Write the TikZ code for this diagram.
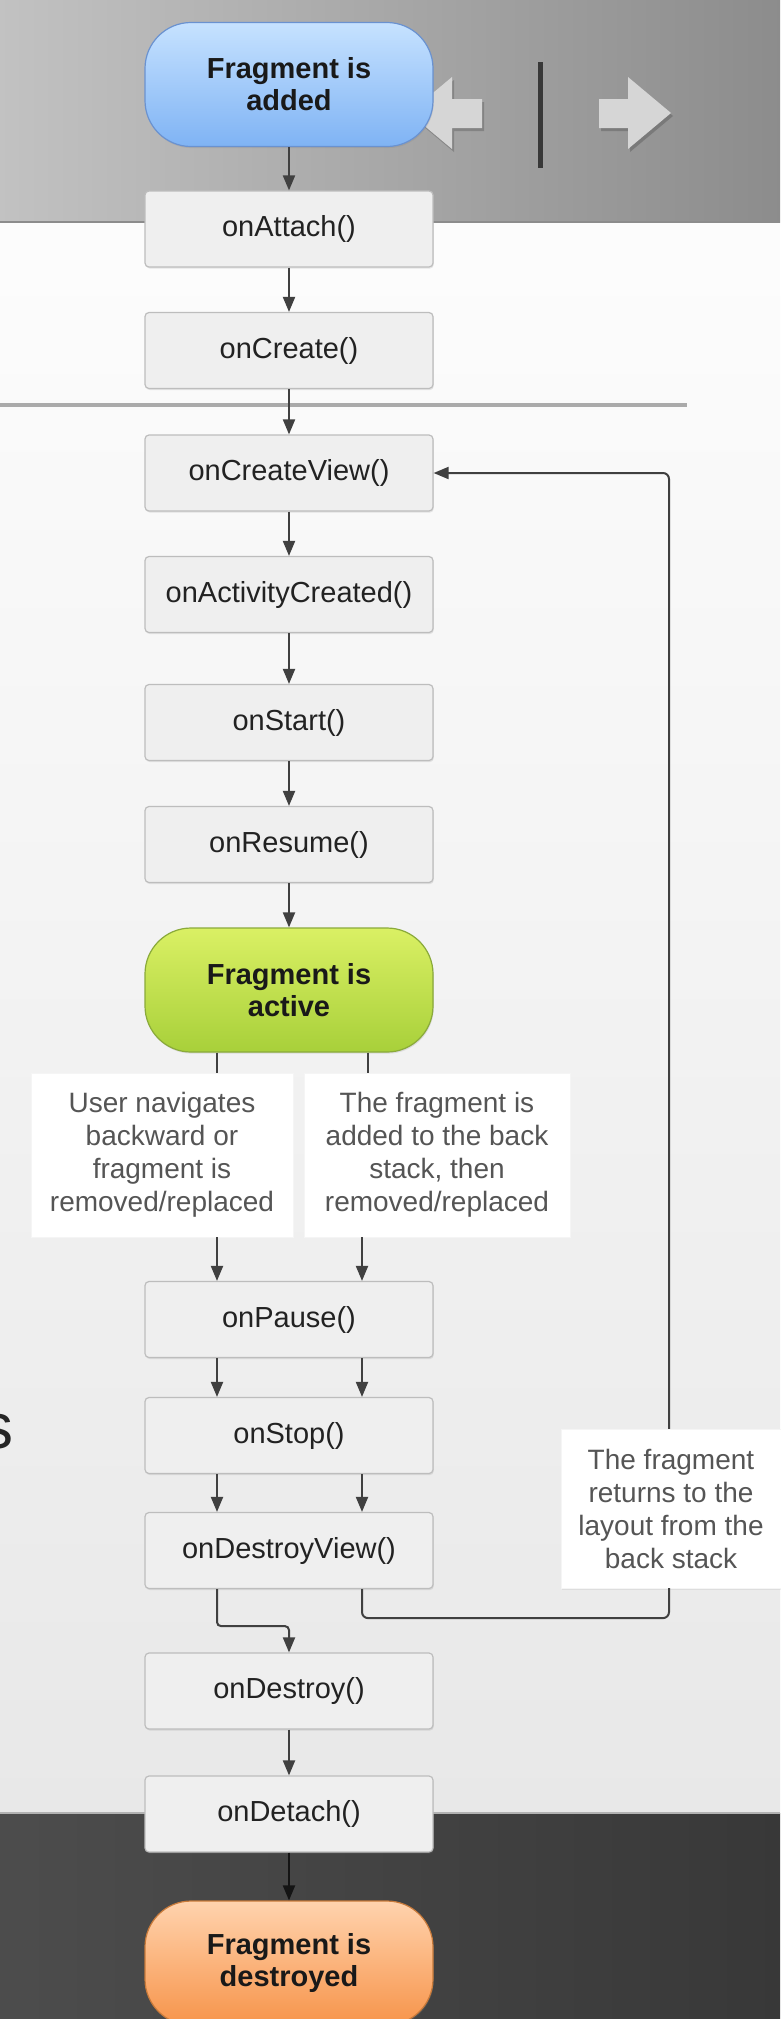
\documentclass[tikz,border=0pt]{standalone}
\usepackage{fontspec}
\setmainfont{Liberation Sans}
\usetikzlibrary{arrows.meta,shadows}

\definecolor{boxfill}{HTML}{EFEFEF}
\definecolor{boxline}{HTML}{BDBDBD}
\definecolor{inkdark}{HTML}{222222}
\definecolor{arrowc}{HTML}{404040}
\definecolor{notec}{HTML}{555555}
\definecolor{blueTop}{HTML}{C6E2FF}
\definecolor{blueBot}{HTML}{7FB3F4}
\definecolor{blueLine}{HTML}{6A92D0}
\definecolor{greenTop}{HTML}{DAF064}
\definecolor{greenBot}{HTML}{A8D03A}
\definecolor{greenLine}{HTML}{8AAA3A}
\definecolor{orangeTop}{HTML}{FFD3AE}
\definecolor{orangeBot}{HTML}{F7944A}
\definecolor{orangeLine}{HTML}{C87A3A}
\definecolor{iconc}{HTML}{D6D6D6}
\definecolor{sepc}{HTML}{AAAAAA}

\tikzset{
  stepbox/.style={rectangle, rounded corners=4, draw=boxline, fill=boxfill,
    line width=1.2, minimum width=288, minimum height=76, inner sep=0,
    font=\fontsize{29}{33}\selectfont, text=inkdark,
    drop shadow={opacity=0.18, shadow xshift=0.8pt, shadow yshift=-1.6pt}},
  state/.style={rectangle, rounded corners=46, line width=1.2,
    minimum width=288, minimum height=124, inner sep=0, align=center,
    font=\fontsize{29}{32}\selectfont\bfseries, text=black!90,
    drop shadow={opacity=0.2, shadow xshift=0.8pt, shadow yshift=-1.6pt}},
  note/.style={rectangle, fill=white, draw=black!4, inner sep=0, align=center,
    font=\fontsize{28}{33}\selectfont, text=notec},
  link/.style={draw=arrowc, line width=2},
  flow/.style={link, -{Triangle[length=15,width=12]}},
  icon/.style={fill=iconc},
}

\begin{document}
\begin{tikzpicture}[x=1pt,y=-1pt]
\useasboundingbox (0,0) rectangle (780,2019);

% slide background: grey title band, pale body, dark footer band
\fill[left color=black!24, right color=black!45] (0,0) rectangle (780,222);
\fill[top color=black!1, bottom color=black!9] (0,222) rectangle (780,1813);
\draw[black!45, line width=1.5] (0,222) -- (780,222);
\fill[left color=black!70, right color=black!78] (0,1813) rectangle (780,2019);
\draw[black!30, line width=1.2] (0,1813) -- (780,1813);

% slide navigation arrows and divider
\fill[black, opacity=0.18] (411,116) -- (454,80) -- (454,102) -- (484,102) -- (484,131) -- (454,131) -- (454,152) -- cycle;
\fill[icon] (409,113) -- (452,77) -- (452,99) -- (482,99) -- (482,128) -- (452,128) -- (452,149) -- cycle;
\fill[black, opacity=0.18] (601,102) -- (630,102) -- (630,80) -- (673,116) -- (630,152) -- (630,131) -- (601,131) -- cycle;
\fill[icon] (599,99) -- (628,99) -- (628,77) -- (671,113) -- (628,149) -- (628,128) -- (599,128) -- cycle;
\draw[black!78, line width=5] (540,62) -- (540,168);

% separator rule of the slide
\draw[sepc, line width=4.5] (0,405) -- (687,405);

% tail of the slide heading text at the left edge
\node[anchor=base east, inner sep=0, text=black!85, font=\fontsize{64}{64}\selectfont] (tail) at (14,1448) {s};

% lifecycle states
\node[state, draw=blueLine, top color=blueTop, bottom color=blueBot] (added) at (289,84.5) {Fragment is\\added};
\node[stepbox] (attach)   at (289,229)   {onAttach()};
\node[stepbox] (create)   at (289,350.5) {onCreate()};
\node[stepbox] (cview)    at (289,473)   {onCreateView()};
\node[stepbox] (actc)     at (289,594.5) {onActivityCreated()};
\node[stepbox] (start)    at (289,722.5) {onStart()};
\node[stepbox] (resume)   at (289,844.5) {onResume()};
\node[state, draw=greenLine, top color=greenTop, bottom color=greenBot] (active) at (289,990) {Fragment is\\active};

\node[note, minimum width=262, minimum height=164] (back) at (162,1155)
  {User navigates\\backward or\\fragment is\\removed/replaced};
\node[note, minimum width=266, minimum height=164] (stack) at (437,1155)
  {The fragment is\\added to the back\\stack, then\\removed/replaced};

\node[stepbox] (pause)    at (289,1319.5) {onPause()};
\node[stepbox] (stop)     at (289,1435.5) {onStop()};
\node[stepbox] (dview)    at (289,1550.5) {onDestroyView()};
\node[stepbox] (destroy)  at (289,1691)   {onDestroy()};
\node[stepbox] (detach)   at (289,1814)   {onDetach()};
\node[state, draw=orangeLine, top color=orangeTop, bottom color=orangeBot] (gone) at (289,1963) {Fragment is\\destroyed};

\node[note, minimum width=220, minimum height=159,
  drop shadow={opacity=0.12, shadow xshift=0.8pt, shadow yshift=-1.6pt}] (ret) at (671,1508.5)
  {The fragment\\returns to the\\layout from the\\back stack};

% columns of the two parallel branches
\coordinate (colL) at (217,0);
\coordinate (colR) at (362,0);
\coordinate (colR0) at (368,0);

% main flow
\draw[flow] (added) -- (attach);
\draw[flow] (attach) -- (create);
\draw[flow] (create) -- (cview);
\draw[flow] (cview) -- (actc);
\draw[flow] (actc) -- (start);
\draw[flow] (start) -- (resume);
\draw[flow] (resume) -- (active);

% leaving the active state
\draw[link] (active.south -| colL) -- (back.north -| colL);
\draw[link] (active.south -| colR0) -- (stack.north -| colR0);
\draw[flow] (back.south -| colL) -- (pause.north -| colL);
\draw[flow] (stack.south -| colR) -- (pause.north -| colR);
\draw[flow] (pause.south -| colL) -- (stop.north -| colL);
\draw[flow] (pause.south -| colR) -- (stop.north -| colR);
\draw[flow] (stop.south -| colL) -- (dview.north -| colL);
\draw[flow] (stop.south -| colR) -- (dview.north -| colR);

% removed for good
\draw[flow, rounded corners=4] (dview.south -| colL) -- ++(0,37) -| (destroy.north);
\draw[flow] (destroy) -- (detach);
\draw[flow, draw=black!92] (detach) -- (gone);

% back stack loop to onCreateView()
\draw[link, rounded corners=6] (dview.south -| colR) -- ++(0,29) -| ([xshift=-2]ret.south);
\draw[flow, rounded corners=6] ([xshift=-2]ret.north) |- (cview.east);
\end{tikzpicture}
\end{document}
